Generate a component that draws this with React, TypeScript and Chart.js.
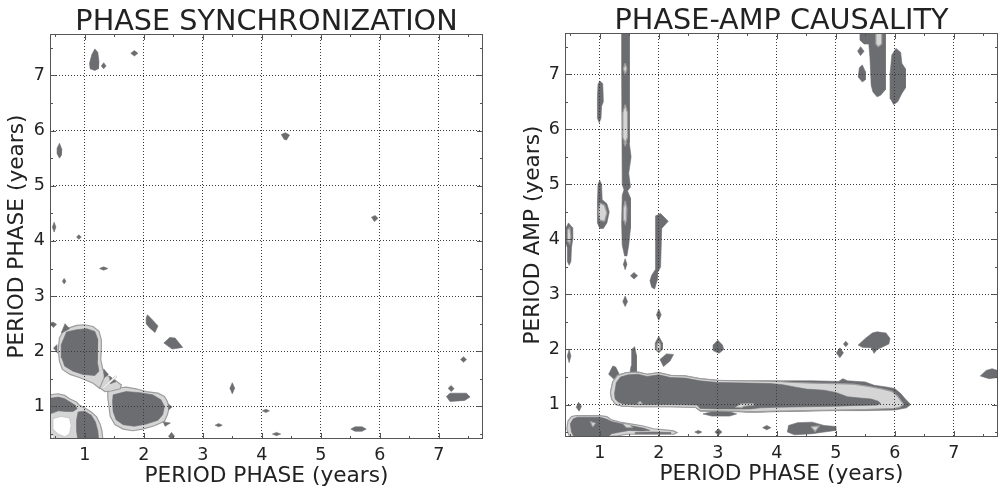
import React, { useEffect, useRef } from 'react';
import { Chart, registerables } from 'chart.js';

Chart.register(...registerables);
Chart.defaults.font.family = '"DejaVu Sans", sans-serif';

type Pt = [number, number];
type Poly = Pt[];

// ---------- axes / text ----------
const AXIS_MIN = 0.41;
const AXIS_MAX = 7.75;
const MAJOR_TICKS = [1, 2, 3, 4, 5, 6, 7];
const MINOR_TICKS = [0.5, 1.5, 2.5, 3.5, 4.5, 5.5, 6.5, 7.5];

const LEFT_TITLE = 'PHASE SYNCHRONIZATION';
const RIGHT_TITLE = 'PHASE-AMP CAUSALITY';
const X_LABEL = 'PERIOD PHASE (years)';
const LEFT_Y_LABEL = 'PERIOD PHASE (years)';
const RIGHT_Y_LABEL = 'PERIOD AMP (years)';

// ---------- PHASE SYNCHRONIZATION contour regions (x = phase period, y = phase period) ----------
const syncLightRegions: Poly[] = [
  [[0.635, 2.36], [0.72, 2.42], [0.86, 2.47], [1.0, 2.48], [1.14, 2.45], [1.24, 2.36], [1.28, 2.21], [1.28, 2.03], [1.27, 1.85], [1.3, 1.7], [1.34, 1.55], [1.3, 1.45], [1.25, 1.33], [1.14, 1.42], [0.92, 1.52], [0.75, 1.58], [0.62, 1.67], [0.57, 1.82], [0.55, 2.03], [0.57, 2.24]],
  [[1.28, 1.66], [1.39, 1.55], [1.51, 1.48], [1.62, 1.39], [1.6, 1.32], [1.45, 1.28], [1.34, 1.27], [1.22, 1.36], [1.24, 1.5]],
  [[1.39, 1.27], [1.53, 1.33], [1.7, 1.35], [1.87, 1.32], [2.04, 1.27], [2.24, 1.24], [2.35, 1.18], [2.4, 1.09], [2.43, 0.97], [2.4, 0.85], [2.35, 0.73], [2.18, 0.65], [1.98, 0.59], [1.81, 0.56], [1.65, 0.59], [1.51, 0.67], [1.43, 0.82], [1.41, 1.0], [1.39, 1.15]],
  [[0.36, 0.36], [0.36, 1.2], [0.545, 1.23], [0.66, 1.2], [0.74, 1.14], [0.86, 1.08], [0.91, 1.02], [1.0, 0.97], [1.11, 0.9], [1.2, 0.81], [1.26, 0.68], [1.29, 0.56], [1.31, 0.36]],
];

const syncDarkRegions: Poly[] = [
  [[0.69, 2.35], [0.86, 2.39], [1.03, 2.41], [1.17, 2.36], [1.22, 2.22], [1.21, 2.03], [1.21, 1.82], [1.24, 1.64], [1.17, 1.56], [0.97, 1.58], [0.8, 1.64], [0.66, 1.73], [0.61, 1.88], [0.6, 2.12]],
  [[0.6, 2.33], [0.665, 2.5], [0.74, 2.41]],
  [[0.53, 2.12], [0.47, 2.06], [0.54, 1.97]],
  [[1.32, 1.68], [1.4, 1.58], [1.33, 1.52]],
  [[1.42, 1.55], [1.53, 1.45], [1.43, 1.41]],
  [[1.48, 1.21], [1.7, 1.27], [1.93, 1.25], [2.15, 1.21], [2.29, 1.12], [2.35, 1.0], [2.32, 0.85], [2.24, 0.75], [2.04, 0.68], [1.84, 0.64], [1.65, 0.67], [1.53, 0.76], [1.48, 0.91], [1.47, 1.09]],
  [[2.42, 1.04], [2.48, 0.99], [2.42, 0.94]],
  [[2.33, 0.72], [2.45, 0.7], [2.36, 0.64]],
  [[2.42, 0.46], [2.47, 0.53], [2.52, 0.46], [2.47, 0.4]],
  [[0.36, 0.85], [0.36, 1.14], [0.55, 1.17], [0.66, 1.14], [0.75, 1.08], [0.84, 1.02], [0.87, 0.96], [0.8, 0.91], [0.68, 0.91], [0.55, 0.92], [0.45, 0.88]],
  [[0.886, 0.9], [1.0, 0.915], [1.11, 0.84], [1.18, 0.72], [1.22, 0.56], [1.24, 0.36], [0.886, 0.36], [0.86, 0.56], [0.86, 0.75]],
  [[1.17, 7.48], [1.22, 7.42], [1.24, 7.25], [1.23, 7.12], [1.17, 7.09], [1.09, 7.12], [1.08, 7.22], [1.12, 7.38]],
  [[1.28, 7.17], [1.32, 7.23], [1.36, 7.17], [1.32, 7.12]],
  [[1.78, 7.4], [1.84, 7.45], [1.9, 7.4], [1.84, 7.35]],
  [[4.33, 5.93], [4.4, 5.96], [4.47, 5.92], [4.42, 5.83], [4.38, 5.84]],
  [[0.57, 5.77], [0.61, 5.66], [0.6, 5.55], [0.57, 5.5], [0.53, 5.58], [0.53, 5.68]],
  [[0.48, 4.34], [0.51, 4.25], [0.48, 4.16], [0.45, 4.25]],
  [[0.86, 4.07], [0.9, 4.11], [0.94, 4.07], [0.9, 4.03]],
  [[1.25, 3.5], [1.32, 3.53], [1.39, 3.5], [1.32, 3.47]],
  [[0.62, 3.27], [0.65, 3.32], [0.68, 3.27], [0.65, 3.22]],
  [[0.4, 2.5], [0.46, 2.53], [0.52, 2.49], [0.47, 2.43]],
  [[2.06, 2.66], [2.12, 2.6], [2.24, 2.46], [2.19, 2.34], [2.1, 2.42], [2.04, 2.5], [2.04, 2.6]],
  [[2.44, 2.25], [2.53, 2.24], [2.66, 2.07], [2.48, 2.04], [2.34, 2.15]],
  [[3.5, 1.43], [3.54, 1.33], [3.5, 1.23], [3.46, 1.33]],
  [[3.21, 0.66], [3.27, 0.69], [3.33, 0.66], [3.27, 0.63]],
  [[4.01, 0.92], [4.07, 0.95], [4.13, 0.92], [4.07, 0.89]],
  [[4.18, 0.5], [4.25, 0.53], [4.32, 0.5], [4.25, 0.47]],
  [[5.51, 0.59], [5.58, 0.63], [5.7, 0.63], [5.77, 0.59], [5.7, 0.55], [5.58, 0.55]],
  [[5.86, 4.43], [5.92, 4.46], [5.97, 4.41], [5.91, 4.35]],
  [[7.37, 1.85], [7.42, 1.9], [7.47, 1.85], [7.42, 1.8]],
  [[7.16, 1.33], [7.21, 1.38], [7.26, 1.32], [7.21, 1.27]],
  [[7.13, 1.18], [7.19, 1.24], [7.47, 1.24], [7.53, 1.17], [7.44, 1.11], [7.19, 1.09]],
];

const syncWhiteRegions: Poly[] = [
  [[0.46, 0.78], [0.6, 0.82], [0.74, 0.79], [0.77, 0.65], [0.74, 0.5], [0.66, 0.45], [0.545, 0.5], [0.46, 0.59]],
  [[1.3, 1.345], [1.52, 1.555], [1.54, 1.535], [1.32, 1.325]],
  [[0.42, 0.45], [0.45, 0.48], [0.48, 0.45], [0.45, 0.42]],
];

// ---------- PHASE-AMP CAUSALITY contour regions (x = phase period, y = amplitude period) ----------
const causDarkBase: Poly[] = [
  [[1.18, 1.22], [1.22, 1.42], [1.3, 1.53], [1.45, 1.58], [1.65, 1.59], [1.8, 1.55], [2.0, 1.58], [2.2, 1.53], [2.45, 1.52], [2.7, 1.47], [3.0, 1.44], [3.5, 1.43], [4.0, 1.43], [4.6, 1.43], [5.05, 1.42], [5.12, 1.47], [5.2, 1.43], [5.5, 1.41], [5.65, 1.35], [5.85, 1.32], [6.0, 1.29], [6.1, 1.2], [6.18, 1.1], [6.27, 1.0], [6.2, 0.94], [6.0, 0.9], [5.5, 0.89], [5.0, 0.89], [4.5, 0.88], [4.0, 0.87], [3.7, 0.86], [3.5, 0.86], [3.3, 0.87], [2.7, 0.88], [2.62, 0.95], [2.2, 0.96], [1.6, 0.96], [1.38, 0.97], [1.27, 1.0], [1.2, 1.1]],
  [[1.37, 7.8], [1.5, 7.8], [1.5, 5.75], [1.53, 5.5], [1.49, 5.2], [1.52, 4.95], [1.47, 4.88], [1.52, 4.75], [1.52, 4.2], [1.49, 3.9], [1.46, 3.7], [1.42, 3.7], [1.38, 3.9], [1.37, 4.3], [1.38, 4.8], [1.41, 4.9], [1.38, 5.0], [1.37, 7.0]],
  [[1.43, 3.65], [1.46, 3.55], [1.43, 3.45], [1.4, 3.55]],
  [[1.43, 2.97], [1.47, 2.87], [1.43, 2.78], [1.39, 2.87]],
  [[1.52, 3.34], [1.58, 3.4], [1.64, 3.34], [1.58, 3.28]],
  [[0.97, 6.82], [1.0, 6.88], [1.05, 6.83], [1.06, 6.5], [1.03, 6.42], [1.02, 6.2], [0.99, 6.12], [0.96, 6.2], [0.96, 6.6]],
  [[0.97, 5.0], [1.0, 5.07], [1.03, 5.0], [1.04, 4.72], [1.12, 4.65], [1.16, 4.5], [1.12, 4.3], [1.06, 4.2], [1.0, 4.2], [0.96, 4.3], [0.96, 4.7]],
  [[0.42, 4.2], [0.47, 4.3], [0.53, 4.22], [0.54, 4.0], [0.52, 3.85], [0.51, 3.6], [0.48, 3.53], [0.45, 3.6], [0.45, 3.85], [0.42, 3.95]],
  [[1.95, 4.43], [2.03, 4.47], [2.16, 4.33], [2.05, 4.2], [2.03, 3.5], [1.98, 3.4], [1.97, 3.25], [1.93, 3.1], [1.88, 3.13], [1.85, 3.25], [1.88, 3.35], [1.94, 3.45], [1.94, 4.2]],
  [[2.0, 2.73], [2.04, 2.63], [2.0, 2.53], [1.96, 2.63]],
  [[2.0, 2.24], [2.06, 2.12], [2.06, 2.0], [2.0, 1.94], [1.94, 2.0], [1.94, 2.12]],
  [[2.02, 1.82], [2.13, 1.92], [2.25, 1.91], [2.19, 1.79], [2.08, 1.69]],
  [[3.0, 2.17], [3.08, 2.08], [3.1, 2.0], [3.02, 1.93], [2.92, 1.98], [2.92, 2.08]],
  [[1.54, 2.0], [1.59, 2.05], [1.62, 1.9], [1.62, 1.6], [1.67, 1.5], [1.5, 1.5], [1.53, 1.7]],
  [[1.15, 1.55], [1.22, 1.7], [1.27, 1.68], [1.33, 1.55], [1.25, 1.45]],
  [[0.48, 2.0], [0.51, 1.88], [0.48, 1.76], [0.45, 1.88]],
  [[0.64, 1.04], [0.69, 0.97], [0.65, 0.88], [0.6, 0.95]],
  [[2.75, 0.83], [2.9, 0.87], [3.2, 0.87], [3.32, 0.83], [3.2, 0.79], [2.9, 0.79]],
  [[2.61, 0.5], [2.67, 0.53], [2.73, 0.5], [2.67, 0.47]],
  [[2.95, 0.5], [3.01, 0.56], [3.07, 0.5], [3.01, 0.44]],
  [[3.76, 0.58], [3.83, 0.62], [3.9, 0.58], [3.83, 0.54]],
  [[4.2, 0.62], [4.35, 0.67], [4.6, 0.68], [4.8, 0.62], [5.0, 0.6], [5.0, 0.53], [4.8, 0.5], [4.6, 0.47], [4.3, 0.45], [4.18, 0.5]],
  [[5.01, 1.94], [5.07, 2.03], [5.13, 1.94], [5.07, 1.85]],
  [[5.13, 2.1], [5.17, 2.15], [5.21, 2.1], [5.17, 2.05]],
  [[5.38, 2.08], [5.5, 2.2], [5.62, 2.3], [5.7, 2.32], [5.85, 2.3], [5.92, 2.2], [5.9, 2.1], [5.8, 2.05], [5.7, 2.0], [5.65, 1.93], [5.6, 2.03], [5.45, 2.04]],
  [[7.45, 1.52], [7.55, 1.62], [7.65, 1.65], [7.8, 1.6], [7.8, 1.5], [7.6, 1.47]],
  [[5.41, 7.8], [5.84, 7.8], [5.84, 6.72], [5.76, 6.62], [5.7, 6.59], [5.63, 6.68], [5.6, 6.8], [5.58, 7.3], [5.56, 7.55], [5.48, 7.55], [5.41, 7.62]],
  [[5.37, 7.42], [5.42, 7.5], [5.48, 7.42], [5.42, 7.34]],
  [[5.4, 7.12], [5.45, 7.17], [5.5, 7.05], [5.5, 6.9], [5.45, 6.86], [5.38, 6.95]],
  [[5.95, 7.35], [6.02, 7.47], [6.1, 7.4], [6.12, 7.2], [6.18, 7.1], [6.18, 6.75], [6.12, 6.65], [6.05, 6.5], [5.98, 6.45], [5.93, 6.55], [5.92, 7.0]],
];

const causLight: Poly[] = [
  [[1.18, 1.22], [1.22, 1.42], [1.3, 1.53], [1.45, 1.58], [1.65, 1.59], [1.8, 1.55], [2.0, 1.58], [2.2, 1.53], [2.45, 1.52], [2.7, 1.47], [3.0, 1.44], [3.5, 1.43], [4.0, 1.42], [4.3, 1.4], [4.6, 1.39], [5.0, 1.38], [5.3, 1.37], [5.55, 1.33], [5.8, 1.28], [5.95, 1.24], [6.05, 1.15], [6.12, 1.05], [6.15, 1.0], [6.08, 0.95], [6.0, 0.93], [5.5, 0.91], [5.0, 0.9], [4.5, 0.89], [4.0, 0.88], [3.7, 0.87], [3.5, 0.87], [3.3, 0.88], [2.7, 0.89], [2.62, 0.95], [2.2, 0.96], [1.6, 0.96], [1.38, 0.97], [1.27, 1.0], [1.2, 1.1]],
  [[0.44, 0.55], [0.46, 0.7], [0.52, 0.78], [0.6, 0.8], [1.0, 0.8], [1.12, 0.78], [1.2, 0.72], [1.34, 0.68], [1.57, 0.64], [1.74, 0.61], [1.91, 0.56], [2.1, 0.54], [2.25, 0.52], [2.31, 0.49], [2.26, 0.46], [1.96, 0.46], [1.45, 0.46], [1.3, 0.43], [0.6, 0.38], [0.5, 0.38]],
  [[1.43, 7.2], [1.46, 7.1], [1.43, 7.0], [1.4, 7.1]],
  [[1.43, 6.45], [1.47, 6.3], [1.47, 5.85], [1.43, 5.75], [1.39, 5.85], [1.39, 6.3]],
  [[1.43, 5.82], [1.45, 5.75], [1.43, 5.7], [1.41, 5.75]],
  [[1.43, 4.7], [1.46, 4.55], [1.45, 4.35], [1.43, 4.28], [1.41, 4.35], [1.4, 4.55]],
  [[1.0, 4.66], [1.08, 4.62], [1.12, 4.48], [1.08, 4.33], [1.0, 4.35], [0.98, 4.5]],
  [[0.45, 4.17], [0.49, 4.22], [0.51, 4.05], [0.49, 3.92], [0.46, 3.97]],
  [[2.0, 2.15], [2.03, 2.08], [2.02, 1.98], [1.98, 1.98], [1.97, 2.08]],
  [[5.68, 7.8], [5.78, 7.8], [5.78, 7.55], [5.72, 7.5], [5.68, 7.55]],
  [[4.58, 0.6], [4.72, 0.61], [4.65, 0.51]],
];

const causDarkInner: Poly[] = [
  [[1.25, 1.2], [1.28, 1.4], [1.35, 1.5], [1.48, 1.54], [1.65, 1.55], [1.8, 1.51], [2.0, 1.54], [2.2, 1.49], [2.45, 1.48], [2.7, 1.43], [3.0, 1.4], [3.5, 1.39], [3.9, 1.38], [4.1, 1.36], [4.3, 1.32], [4.5, 1.28], [4.8, 1.26], [5.0, 1.22], [5.2, 1.14], [5.4, 1.12], [5.6, 1.1], [5.72, 1.06], [5.76, 1.02], [5.7, 0.99], [5.3, 0.98], [5.0, 0.97], [4.5, 0.96], [4.0, 0.95], [3.72, 0.94], [3.55, 0.92], [3.35, 0.92], [3.0, 0.92], [2.7, 0.93], [2.65, 0.99], [2.2, 1.0], [1.6, 1.0], [1.4, 1.01], [1.32, 1.04], [1.26, 1.1]],
  [[0.52, 0.5], [0.5, 0.65], [0.55, 0.74], [0.62, 0.77], [1.0, 0.77], [1.1, 0.74], [1.2, 0.69], [1.4, 0.64], [1.6, 0.6], [1.75, 0.57], [1.85, 0.53], [1.7, 0.52], [1.5, 0.53], [1.35, 0.5], [1.2, 0.47], [1.1, 0.38], [0.58, 0.38]],
  [[1.6, 0.49], [1.9, 0.5], [2.2, 0.49], [2.2, 0.47], [1.9, 0.47], [1.6, 0.47]],
];

const causLightInner: Poly[] = [
  [[3.3, 0.95], [3.38, 1.01], [3.6, 1.02], [3.62, 0.99], [3.45, 0.97], [3.4, 0.94]],
  [[0.84, 0.69], [0.93, 0.66], [0.88, 0.59]],
  [[1.38, 0.66], [1.5, 0.64], [1.56, 0.58], [1.45, 0.58]],
  [[1.66, 1.05], [1.7, 1.05], [1.72, 1.01], [1.64, 1.01]],
];

// ---------- styling ----------
const DARK = '#6c6d70';
const LIGHT = '#d5d5d5';
const EDGE = '#9d9d9d';
const WHITE = '#ffffff';
const TEXT = '#222222';
const FRAME = '#555555';

type Layer = { polys: Poly[]; fill: string; edge: string; width: number };

const leftLayers: Layer[] = [
  { polys: syncLightRegions, fill: LIGHT, edge: EDGE, width: 1.2 },
  { polys: syncDarkRegions, fill: DARK, edge: DARK, width: 0.6 },
  { polys: syncWhiteRegions, fill: WHITE, edge: '#c4c4c4', width: 0.8 },
];

const rightLayers: Layer[] = [
  { polys: causDarkBase, fill: DARK, edge: DARK, width: 0.6 },
  { polys: causLight, fill: LIGHT, edge: EDGE, width: 1.2 },
  { polys: causDarkInner, fill: DARK, edge: DARK, width: 0.6 },
  { polys: causLightInner, fill: LIGHT, edge: EDGE, width: 1 },
];

type Geom = {
  x: number; w: number; h: number;
  left: number; right: number; top: number; bottom: number;
  titleGap: number; xTitlePad: number; yTitlePad: number;
};

const frameTicks = {
  id: 'frameTicks',
  afterDraw(chart: any) {
    const { ctx, chartArea: a, scales } = chart;
    const xs = scales.x;
    const ys = scales.y;
    ctx.save();
    ctx.strokeStyle = FRAME;
    ctx.lineWidth = 1;
    ctx.strokeRect(Math.round(a.left) + 0.5, Math.round(a.top) + 0.5, Math.round(a.right - a.left) - 1, Math.round(a.bottom - a.top) - 1);
    ctx.beginPath();
    const mark = (v: number, len: number) => {
      const px = Math.round(xs.getPixelForValue(v)) + 0.5;
      if (px > a.left + 1 && px < a.right - 1) {
        ctx.moveTo(px, a.bottom); ctx.lineTo(px, a.bottom - len);
        ctx.moveTo(px, a.top); ctx.lineTo(px, a.top + len);
      }
      const py = Math.round(ys.getPixelForValue(v)) + 0.5;
      if (py > a.top + 1 && py < a.bottom - 1) {
        ctx.moveTo(a.left, py); ctx.lineTo(a.left + len, py);
        ctx.moveTo(a.right, py); ctx.lineTo(a.right - len, py);
      }
    };
    MAJOR_TICKS.forEach((v) => mark(v, 6));
    MINOR_TICKS.forEach((v) => mark(v, 3));
    ctx.stroke();
    ctx.restore();
  },
};

const panelTitle = {
  id: 'panelTitle',
  afterDraw(chart: any, _args: any, opts: any) {
    const { ctx, chartArea: a } = chart;
    ctx.save();
    ctx.font = '28.7px "DejaVu Sans"';
    ctx.fillStyle = TEXT;
    ctx.textAlign = 'center';
    ctx.textBaseline = 'alphabetic';
    ctx.fillText(opts.text, (a.left + a.right) / 2, a.top - opts.gap);
    ctx.restore();
  },
};

function ContourPanel({ layers, title, yLabel, geom }: { layers: Layer[]; title: string; yLabel: string; geom: Geom }) {
  const ref = useRef<HTMLCanvasElement | null>(null);
  useEffect(() => {
    if (!ref.current) return;
    const datasets: any[] = [];
    layers.forEach((layer, li) => {
      layer.polys.forEach((poly) => {
        datasets.push({
          type: 'line',
          data: [...poly, poly[0]].map(([x, y]) => ({ x, y })),
          fill: 'shape',
          backgroundColor: layer.fill,
          borderColor: layer.edge,
          borderWidth: layer.width,
          pointRadius: 0,
          pointHoverRadius: 0,
          tension: 0,
          order: layers.length - li,
        });
      });
    });
    const axisCommon = (isX: boolean) => ({
      type: 'linear',
      min: AXIS_MIN,
      max: AXIS_MAX,
      afterBuildTicks: (s: any) => {
        s.ticks = MAJOR_TICKS.map((v) => ({ value: v }));
      },
      grid: { color: '#3a3a3a', lineWidth: 1, drawTicks: false, z: 1 },
      border: { display: false, dash: [1, 2] },
      ticks: {
        color: TEXT,
        font: { size: 17.5 },
        padding: isX ? 6 : 5,
        autoSkip: false,
        maxRotation: 0,
      },
    });
    const chart = new Chart(ref.current, {
      type: 'line',
      data: { datasets },
      options: {
        responsive: false,
        animation: false,
        events: [],
        layout: { padding: { left: 0, top: geom.top, right: geom.w - geom.right, bottom: 0 } },
        plugins: {
          legend: { display: false },
          tooltip: { enabled: false },
          title: { display: false },
          panelTitle: { text: title, gap: geom.titleGap },
        } as any,
        scales: {
          x: {
            ...axisCommon(true),
            afterFit: (s: any) => { s.height = geom.h - geom.bottom; },
            title: { display: true, text: X_LABEL, color: TEXT, font: { size: 21.7 }, padding: { top: 0, bottom: geom.xTitlePad } },
          } as any,
          y: {
            ...axisCommon(false),
            afterFit: (s: any) => { s.width = geom.left; },
            title: { display: true, text: yLabel, color: TEXT, font: { size: 21.7 }, padding: { top: geom.yTitlePad, bottom: 0 } },
          } as any,
        },
      },
      plugins: [frameTicks, panelTitle],
    } as any);
    return () => chart.destroy();
  }, []);
  return (
    <canvas
      ref={ref}
      width={geom.w}
      height={geom.h}
      style={{ position: 'absolute', left: geom.x, top: 0, width: geom.w, height: geom.h }}
    />
  );
}

const LEFT_GEOM: Geom = { x: 0, w: 500, h: 489, left: 50, right: 483, top: 34, bottom: 439, titleGap: 4, xTitlePad: 0, yTitlePad: 4.5 };
const RIGHT_GEOM: Geom = { x: 500, w: 502, h: 489, left: 65, right: 498, top: 33, bottom: 437, titleGap: 4.5, xTitlePad: 2, yTitlePad: 20.5 };

export default function App() {
  return (
    <div style={{ position: 'fixed', left: 0, top: 0, width: 1002, height: 489, background: '#fff', overflow: 'hidden' }}>
      <ContourPanel layers={leftLayers} title={LEFT_TITLE} yLabel={LEFT_Y_LABEL} geom={LEFT_GEOM} />
      <ContourPanel layers={rightLayers} title={RIGHT_TITLE} yLabel={RIGHT_Y_LABEL} geom={RIGHT_GEOM} />
    </div>
  );
}
